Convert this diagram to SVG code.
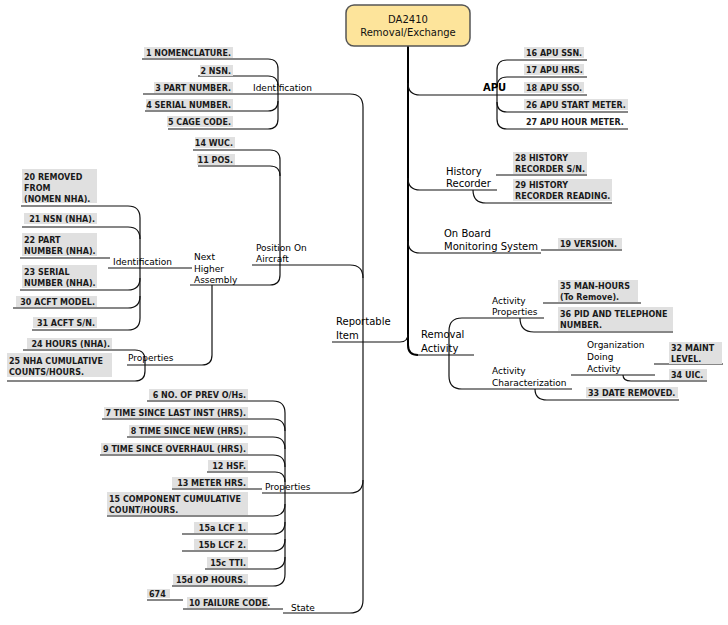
<svg xmlns="http://www.w3.org/2000/svg" width="728" height="625" viewBox="0 0 728 625">
<style>
.bg{fill:#ffffff}
.leaf rect{fill:#e0e0e0}
.leaf text{font-family:"DejaVu Sans","Liberation Sans",sans-serif;font-size:8px;font-weight:bold;fill:#1a1a1a}
.br text{font-family:"DejaVu Sans","Liberation Sans",sans-serif;font-size:9px;fill:#000}
.big text{font-family:"DejaVu Sans","Liberation Sans",sans-serif;font-size:10px;fill:#000}
.e{text-anchor:end}
.c{stroke:#111;stroke-width:1.2;fill:none}
.t{stroke:#000;stroke-width:2;fill:none}
.g{stroke:#888;stroke-width:1.2;fill:none}
</style>
<rect class="bg" x="0" y="0" width="728" height="625"/>

<g id="connectors">
<path class="t" d="M408,46 V345 Q408,355 418,355"/>
<path class="c" d="M416,355 H474"/>
<path class="c" d="M408,83 Q408,95 420,95 H587"/>
<path class="c" d="M408,178 Q408,190 420,190 H497"/>
<path class="c" d="M408,241 Q408,253 420,253 H541"/>
<path class="c" d="M332,342 H400 Q408,342 408,334"/>
<path class="c" d="M587,60 H507 Q497,60 497,70 V119 Q497,129 507,129 H628"/>
<path class="c" d="M587,77 H507 Q497,77 497,87"/>
<path class="c" d="M628,112 H507 Q497,112 497,102"/>
<path class="c" d="M496,175 H587"/>
<path class="c" d="M473,190 Q473,203 486,203 H612"/>
<path class="c" d="M541,250 H622"/>
<path class="g" d="M541,250 H557"/>
<path class="c" d="M544,318 H462 Q449,318 449,331 V376 Q449,389 462,389 H572"/>
<path class="c" d="M543,303 H641"/>
<path class="g" d="M543,303 H558"/>
<path class="c" d="M520,318 Q520,332 534,332 H673"/>
<path class="c" d="M571,375 H655"/>
<path class="g" d="M571,375 H585"/>
<path class="c" d="M654,364 H723"/>
<path class="g" d="M654,364 H669"/>
<path class="c" d="M623,375 Q623,381 631,381 H707"/>
<path class="g" d="M631,381 H669"/>
<path class="c" d="M535,389 Q535,400 547,400 H679"/>
<path class="c" d="M143,94 H350 Q363,94 363,107 V600 Q363,613 350,613 H283"/>
<path class="g" d="M317,94 H345"/>
<path class="c" d="M142,59 H268 Q278,59 278,69 V119 Q278,129 268,129 H168"/>
<path class="c" d="M198,76 H268 Q278,76 278,86"/>
<path class="c" d="M145,111 H268 Q278,111 278,101"/>
<path class="c" d="M252,265 H350 Q363,265 363,278"/>
<path class="g" d="M317,265 H345"/>
<path class="c" d="M193,150 H270 Q280,150 280,160 V275 Q280,285 270,285 H190"/>
<path class="c" d="M198,166 H270 Q280,166 280,176"/>
<path class="g" d="M240,166 H265"/>
<path class="c" d="M108,268 H192"/>
<path class="c" d="M127,365 H202 Q212,365 212,355 V285"/>
<path class="c" d="M21,206 H128 Q140,206 140,218 V318 Q140,330 128,330 H32"/>
<path class="c" d="M22,227 H128 Q140,227 140,239"/>
<path class="c" d="M20,258 H110"/>
<path class="g" d="M97,258 H110"/>
<path class="c" d="M20,290 H128 Q140,290 140,278"/>
<path class="c" d="M13,308 H128 Q140,308 140,296"/>
<path class="c" d="M23,350 H135 Q145,350 145,360 V371 Q145,381 135,381 H7"/>
<path class="c" d="M262,493 H350 Q363,493 363,480"/>
<path class="c" d="M147,401 H273 Q285,401 285,413 V574 Q285,586 273,586 H172"/>
<path class="g" d="M248,401 H272"/>
<path class="c" d="M102,419 H273 Q285,419 285,431"/>
<path class="c" d="M127,437 H273 Q285,437 285,449"/>
<path class="c" d="M100,455 H273 Q285,455 285,467"/>
<path class="c" d="M207,472 H275 Q285,472 285,482"/>
<path class="c" d="M172,489 H262"/>
<path class="c" d="M107,516 H273 Q285,516 285,504"/>
<path class="c" d="M182,534 H273 Q285,534 285,522"/>
<path class="c" d="M182,551 H273 Q285,551 285,539"/>
<path class="c" d="M205,569 H273 Q285,569 285,557"/>
<path class="c" d="M183,609 H283"/>
<path class="g" d="M268,609 H283"/>
<path class="c" d="M147,600 H183"/>
<path class="g" d="M170,600 H183"/>
</g>

<g id="root">
<rect x="346" y="5" width="124" height="41" rx="8" fill="#fde49b" stroke="#555" stroke-width="1.5"/>
<text x="408" y="23" text-anchor="middle" font-family="DejaVu Sans, Liberation Sans, sans-serif" font-size="10" fill="#111">DA2410</text>
<text x="408" y="36" text-anchor="middle" font-family="DejaVu Sans, Liberation Sans, sans-serif" font-size="10" fill="#111">Removal/Exchange</text>
</g>

<g id="apu" class="big"><text x="483" y="91" font-weight="bold" font-size="9.5">APU</text></g>
<g id="n16" class="leaf"><rect x="524" y="47" width="60" height="11"/><text x="526" y="56">16 APU SSN.</text></g>
<g id="n17" class="leaf"><rect x="524" y="64" width="60" height="11"/><text x="526" y="73">17 APU HRS.</text></g>
<g id="n18" class="leaf"><rect x="524" y="82" width="60" height="11"/><text x="526" y="91">18 APU SSO.</text></g>
<g id="n26" class="leaf"><rect x="524" y="99" width="104" height="11"/><text x="526" y="108">26 APU START METER.</text></g>
<g id="n27" class="leaf"><text x="526" y="125">27 APU HOUR METER.</text></g>

<g id="history" class="big"><text x="446" y="175">History</text><text x="446" y="187">Recorder</text></g>
<g id="n28" class="leaf"><rect x="513" y="152" width="74" height="22"/><text x="515" y="161">28 HISTORY</text><text x="515" y="172">RECORDER S/N.</text></g>
<g id="n29" class="leaf"><rect x="513" y="179" width="99" height="22"/><text x="515" y="188">29 HISTORY</text><text x="515" y="199">RECORDER READING.</text></g>

<g id="obms" class="big"><text x="444" y="237">On Board</text><text x="444" y="250">Monitoring System</text></g>
<g id="n19" class="leaf"><rect x="558" y="238" width="64" height="11"/><text x="560" y="247">19 VERSION.</text></g>

<g id="removal" class="big"><text x="421" y="338">Removal</text><text x="421" y="352">Activity</text></g>
<g id="actprops" class="br"><text x="492" y="304">Activity</text><text x="492" y="315">Properties</text></g>
<g id="n35" class="leaf"><rect x="558" y="280" width="80" height="22"/><text x="560" y="289">35 MAN-HOURS</text><text x="560" y="300">(To Remove).</text></g>
<g id="n36" class="leaf"><rect x="558" y="307" width="115" height="24"/><text x="560" y="317">36 PID AND TELEPHONE</text><text x="560" y="328">NUMBER.</text></g>
<g id="actchar" class="br"><text x="492" y="374">Activity</text><text x="492" y="386">Characterization</text></g>
<g id="org" class="br"><text x="587" y="348">Organization</text><text x="587" y="360">Doing</text><text x="587" y="372">Activity</text></g>
<g id="n32" class="leaf"><rect x="669" y="342" width="53" height="22"/><text x="671" y="351">32 MAINT</text><text x="671" y="362"> LEVEL.</text></g>
<g id="n34" class="leaf"><rect x="669" y="369" width="38" height="11"/><text x="671" y="378">34 UIC.</text></g>
<g id="n33" class="leaf"><rect x="586" y="387" width="92" height="11"/><text x="588" y="396">33 DATE REMOVED.</text></g>

<g id="reportable" class="big"><text x="336" y="325">Reportable</text><text x="336" y="339"> Item</text></g>

<g id="ident" class="br"><text x="253" y="91">Identification</text></g>
<g id="n1" class="leaf"><rect x="144" y="47" width="89" height="11"/><text class="e" x="231" y="56">1 NOMENCLATURE.</text></g>
<g id="n2" class="leaf"><rect x="200" y="65" width="33" height="11"/><text class="e" x="231" y="74">2 NSN.</text></g>
<g id="n3" class="leaf"><rect x="154" y="82" width="79" height="11"/><text class="e" x="231" y="91">3 PART NUMBER.</text></g>
<g id="n4" class="leaf"><rect x="146" y="99" width="87" height="11"/><text class="e" x="231" y="108">4 SERIAL NUMBER.</text></g>
<g id="n5" class="leaf"><rect x="167" y="116" width="66" height="11"/><text class="e" x="231" y="125">5 CAGE CODE.</text></g>

<g id="position" class="br"><text x="256" y="251">Position On</text><text x="256" y="262">Aircraft</text></g>
<g id="n14" class="leaf"><rect x="195" y="137" width="40" height="11"/><text class="e" x="233" y="146">14 WUC.</text></g>
<g id="n11" class="leaf"><rect x="197" y="154" width="38" height="11"/><text class="e" x="233" y="163">11 POS.</text></g>

<g id="nha" class="br"><text x="194" y="260">Next</text><text x="194" y="272">Higher</text><text x="194" y="283">Assembly</text></g>
<g id="identnha" class="br"><text x="113" y="265">Identification</text></g>
<g id="n20" class="leaf"><rect x="22" y="169" width="75" height="34"/><text x="24" y="180">20 REMOVED</text><text x="24" y="191">FROM</text><text x="24" y="202"> (NOMEN NHA).</text></g>
<g id="n21" class="leaf"><rect x="24" y="213" width="73" height="11"/><text class="e" x="95" y="222">21 NSN (NHA).</text></g>
<g id="n22" class="leaf"><rect x="22" y="233" width="75" height="23"/><text x="24" y="243">22 PART</text><text x="24" y="254">NUMBER (NHA).</text></g>
<g id="n23" class="leaf"><rect x="22" y="265" width="75" height="23"/><text x="24" y="275">23 SERIAL</text><text x="24" y="286">NUMBER (NHA).</text></g>
<g id="n30" class="leaf"><rect x="16" y="296" width="81" height="11"/><text class="e" x="95" y="305">30 ACFT MODEL.</text></g>
<g id="n31" class="leaf"><rect x="33" y="317" width="64" height="11"/><text class="e" x="95" y="326">31 ACFT S/N.</text></g>
<g id="propsnha" class="br"><text x="128" y="361">Properties</text></g>
<g id="n24" class="leaf"><rect x="27" y="338" width="85" height="11"/><text class="e" x="110" y="347">24 HOURS (NHA).</text></g>
<g id="n25" class="leaf"><rect x="7" y="353" width="105" height="24"/><text x="9" y="364">25 NHA CUMULATIVE</text><text x="9" y="375">COUNTS/HOURS.</text></g>

<g id="props" class="br"><text x="265" y="490">Properties</text></g>
<g id="n6" class="leaf"><rect x="149" y="389" width="99" height="11"/><text class="e" x="246" y="398">6 NO. OF PREV O/Hs.</text></g>
<g id="n7" class="leaf"><rect x="104" y="407" width="144" height="11"/><text class="e" x="246" y="416">7 TIME SINCE LAST INST (HRS).</text></g>
<g id="n8" class="leaf"><rect x="129" y="425" width="119" height="11"/><text class="e" x="246" y="434">8 TIME SINCE NEW (HRS).</text></g>
<g id="n9" class="leaf"><rect x="101" y="443" width="147" height="11"/><text class="e" x="246" y="452">9 TIME SINCE OVERHAUL (HRS).</text></g>
<g id="n12" class="leaf"><rect x="208" y="460" width="40" height="11"/><text class="e" x="246" y="469">12 HSF.</text></g>
<g id="n13" class="leaf"><rect x="172" y="477" width="76" height="11"/><text class="e" x="246" y="486">13 METER HRS.</text></g>
<g id="n15" class="leaf"><rect x="107" y="492" width="141" height="23"/><text x="109" y="502">15 COMPONENT CUMULATIVE</text><text x="109" y="513">COUNT/HOURS.</text></g>
<g id="n15a" class="leaf"><rect x="194" y="522" width="54" height="11"/><text class="e" x="246" y="531">15a LCF 1.</text></g>
<g id="n15b" class="leaf"><rect x="194" y="539" width="54" height="11"/><text class="e" x="246" y="548">15b LCF 2.</text></g>
<g id="n15c" class="leaf"><rect x="207" y="557" width="41" height="11"/><text class="e" x="246" y="566">15c TTI.</text></g>
<g id="n15d" class="leaf"><rect x="173" y="574" width="75" height="11"/><text class="e" x="246" y="583">15d OP HOURS.</text></g>

<g id="state" class="br"><text x="291" y="611">State</text></g>
<g id="n10" class="leaf"><rect x="187" y="597" width="81" height="11"/><text x="189" y="606">10 FAILURE CODE.</text></g>
<g id="n674" class="leaf"><rect x="147" y="589" width="23" height="9"/><text x="149" y="597">674</text></g>
</svg>
